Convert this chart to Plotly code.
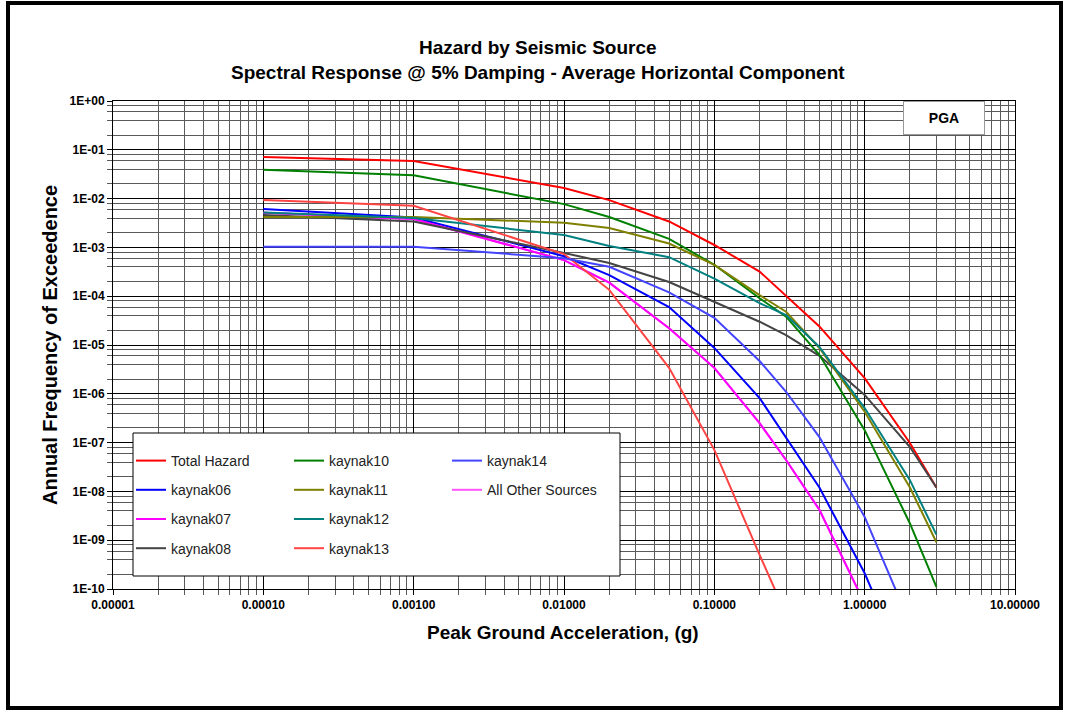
import plotly.graph_objects as go

# ---------------- data ----------------
pga = [0.0001, 0.001, 0.01, 0.02, 0.05, 0.1, 0.2, 0.3, 0.5, 1.0, 2.0, 3.0]

total_hazard = [7.1e-2, 5.9e-2, 1.65e-2, 9.3e-3, 3.4e-3, 1.12e-3, 3.2e-4, 1.03e-4, 2.4e-5, 2.1e-6, 9.8e-8, 1.2e-8]
kaynak06 = [6.1e-3, 4.1e-3, 6.6e-4, 2.7e-4, 6.0e-5, 8.7e-6, 8.2e-7, 1.3e-7, 1.2e-8, 2.1e-10, 1.5e-12]
kaynak07 = [5.1e-3, 3.8e-3, 5.5e-4, 1.9e-4, 2.2e-5, 3.4e-6, 2.5e-7, 4.4e-8, 4.2e-9, 5e-11]
kaynak08 = [4.6e-3, 3.4e-3, 7.7e-4, 4.8e-4, 1.95e-4, 7.6e-5, 3.0e-5, 1.6e-5, 6.0e-6, 9.5e-7, 8.1e-8, 1.2e-8]
kaynak10 = [3.9e-2, 3.0e-2, 7.7e-3, 4.2e-3, 1.5e-3, 4.4e-4, 9.1e-5, 3.8e-5, 6.3e-6, 1.8e-7, 2.2e-9, 1.1e-10]
kaynak11 = [4.2e-3, 4.2e-3, 3.2e-3, 2.5e-3, 1.2e-3, 4.4e-4, 1.05e-4, 4.8e-5, 8.7e-6, 4.3e-7, 1.2e-8, 9.1e-10]
kaynak12 = [5.2e-3, 4.0e-3, 1.8e-3, 1.07e-3, 6.3e-4, 2.3e-4, 7.2e-5, 4.1e-5, 9.1e-6, 5.1e-7, 1.7e-8, 1.3e-9]
kaynak13 = [9.4e-3, 7.1e-3, 7.3e-4, 1.35e-4, 3.4e-6, 7.1e-8, 5e-10, 3e-11]
kaynak14 = [1.03e-3, 1.03e-3, 6.0e-4, 4.0e-4, 1.2e-4, 3.6e-5, 4.7e-6, 1.1e-6, 1.3e-7, 3.0e-9, 2e-11]
all_other = [5.1e-3, 3.8e-3, 5.5e-4, 1.9e-4, 2.2e-5, 3.4e-6, 2.5e-7, 4.4e-8, 4.2e-9, 5e-11]

x_tickvals = [1e-5, 1e-4, 1e-3, 1e-2, 1e-1, 1, 10]
x_ticktext = ["0.00001", "0.00010", "0.00100", "0.01000", "0.10000", "1.00000", "10.00000"]
y_tickvals = [1e0, 1e-1, 1e-2, 1e-3, 1e-4, 1e-5, 1e-6, 1e-7, 1e-8, 1e-9, 1e-10]
y_ticktext = ["1E+00", "1E-01", "1E-02", "1E-03", "1E-04", "1E-05",
              "1E-06", "1E-07", "1E-08", "1E-09", "1E-10"]
y_minor_digits = [2, 4, 6, 8]

# (name, values, colour, legend, rank); drawing order = list order
series = [
    ("All Other Sources", all_other, "#FF55FF", "legend3", 2),
    ("Total Hazard", total_hazard, "#FF0000", "legend", 1),
    ("kaynak06", kaynak06, "#0000FF", "legend", 2),
    ("kaynak07", kaynak07, "#FF00FF", "legend", 3),
    ("kaynak08", kaynak08, "#444444", "legend", 4),
    ("kaynak10", kaynak10, "#008000", "legend2", 1),
    ("kaynak11", kaynak11, "#808000", "legend2", 2),
    ("kaynak12", kaynak12, "#008080", "legend2", 3),
    ("kaynak13", kaynak13, "#FF4444", "legend2", 4),
    ("kaynak14", kaynak14, "#4444FF", "legend3", 1),
]

FONT = "Arial, Liberation Sans, Helvetica, sans-serif"

fig = go.Figure()
for name, vals, color, leg, rank in series:
    fig.add_trace(go.Scatter(
        x=pga[:len(vals)], y=vals, mode="lines", name=name,
        line=dict(color=color, width=2),
        legend=leg, legendrank=rank, legendgroup=name,
    ))

W, H = 1068, 713
L, R, T, B = 113, 53, 101, 124
pw, ph = W - L - R, H - T - B


def px(xp):
    return (xp - L) / pw


def py(yp):
    return (H - B - yp) / ph


def axis_style(minor):
    return dict(
        showgrid=True, gridcolor="#000000", gridwidth=1,
        showline=True, linecolor="#000000", linewidth=1, mirror=True,
        ticks="outside", ticklen=5, tickcolor="#000000",
        tickfont=dict(family=FONT, size=12, color="#000000", weight="bold"),
        zeroline=False,
        minor=dict(showgrid=True, gridcolor="#5a5a5a", gridwidth=1,
                   ticks="outside", ticklen=5, tickcolor="#5a5a5a", **minor),
    )


y_minor_vals = [d * 10.0 ** e for e in range(-10, 0) for d in y_minor_digits]

fig.update_xaxes(type="log", range=[-5, 1], tickmode="array",
                 tickvals=x_tickvals, ticktext=x_ticktext,
                 **axis_style(dict(dtick="D1")))
fig.update_yaxes(type="log", range=[-10, 0], tickmode="array",
                 tickvals=y_tickvals, ticktext=y_ticktext,
                 **axis_style(dict(tickmode="array", tickvals=y_minor_vals)))

leg_common = dict(
    bgcolor="rgba(0,0,0,0)", borderwidth=0,
    font=dict(family=FONT, size=14, color="#222222"),
    yanchor="top", xanchor="left", y=py(445), tracegroupgap=8,
    orientation="v",
)

fig.update_layout(
    width=W, height=H,
    margin=dict(l=L, r=R, t=T, b=B),
    paper_bgcolor="white", plot_bgcolor="white",
    showlegend=True,
    legend=dict(x=px(131), **leg_common),
    legend2=dict(x=px(289), **leg_common),
    legend3=dict(x=px(447), **leg_common),
    shapes=[
        # legend box covering the grid
        dict(type="rect", xref="paper", yref="paper",
             x0=px(133), x1=px(620), y0=py(576), y1=py(433),
             fillcolor="white", line=dict(color="black", width=1), layer="above"),
        # outer frame
        dict(type="rect", xref="paper", yref="paper",
             x0=px(8), x1=px(1061), y0=py(708), y1=py(3),
             line=dict(color="black", width=4), fillcolor="rgba(0,0,0,0)"),
    ],
    annotations=[
        dict(text="<b>Hazard by Seismic Source</b>", xref="paper", yref="paper",
             x=px(538), y=py(47), showarrow=False, xanchor="center", yanchor="middle",
             font=dict(family=FONT, size=19, color="black")),
        dict(text="<b>Spectral Response @ 5% Damping - Average Horizontal Component</b>",
             xref="paper", yref="paper", x=px(538), y=py(72), showarrow=False,
             xanchor="center", yanchor="middle",
             font=dict(family=FONT, size=19, color="black")),
        dict(text="<b>Peak Ground Acceleration, (g)</b>", xref="paper", yref="paper",
             x=px(563), y=py(632), showarrow=False, xanchor="center", yanchor="middle",
             font=dict(family=FONT, size=19, color="black")),
        dict(text="<b>Annual Frequency of Exceedence</b>", xref="paper", yref="paper",
             x=px(50), y=py(345), showarrow=False, xanchor="center", yanchor="middle",
             textangle=-90, font=dict(family=FONT, size=20, color="black")),
        dict(text="<b>PGA</b>", xref="paper", yref="paper",
             x=px(944), y=py(118), showarrow=False, xanchor="center", yanchor="middle",
             width=78, height=30, bgcolor="white", bordercolor="#999999", borderwidth=1,
             font=dict(family=FONT, size=14, color="black")),
    ],
)

fig.write_html("out.html", config={"displayModeBar": False},
               post_script="document.body.style.margin='0px';")
